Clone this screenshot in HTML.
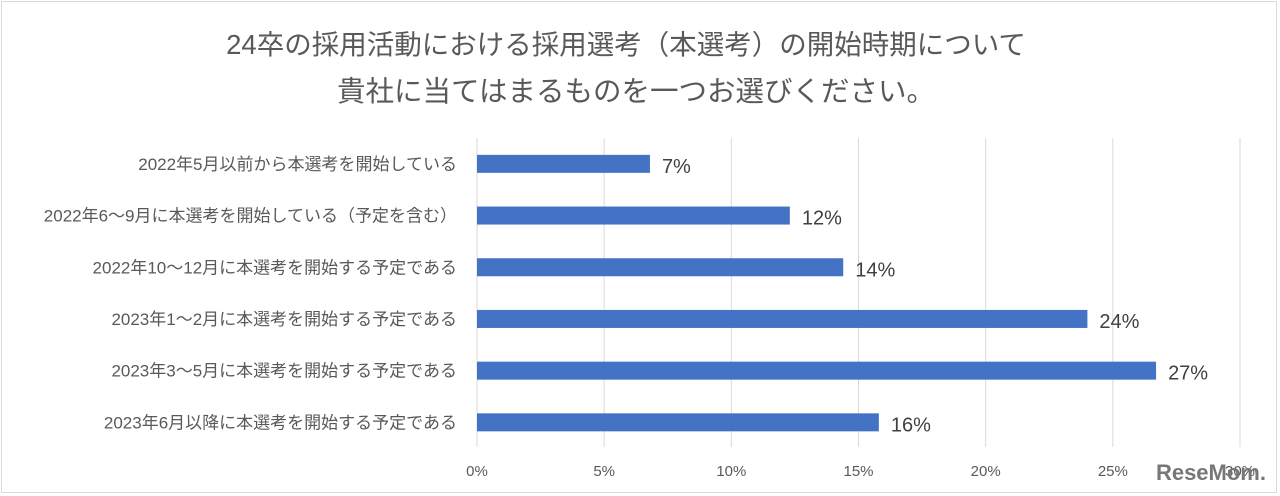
<!DOCTYPE html>
<html><head><meta charset="utf-8">
<style>
html,body{margin:0;padding:0;background:#fff;}
body{width:1280px;height:496px;overflow:hidden;position:relative;font-family:"Liberation Sans","Noto Sans CJK JP",sans-serif;}
#frame{position:absolute;left:1px;top:1px;width:1274px;height:490px;border:1px solid #d9d9d9;}
</style></head>
<body>
<div id="frame"></div>
<svg id="chart" width="1280" height="496" style="position:absolute;left:0;top:0">
<text x="626" y="54" text-anchor="middle" font-size="27.5" fill="#595959">24卒の採用活動における採用選考（本選考）の開始時期について</text>
<text x="636" y="101" text-anchor="middle" font-size="28.5" fill="#595959">貴社に当てはまるものを一つお選びください。</text>
<g id="grid"></g><g id="bars"></g>
<text x="1266" y="480" text-anchor="end" font-size="22" font-weight="bold" fill="#777">ReseMom.</text>
</svg>
<script>
const categories=["2022年5月以前から本選考を開始している","2022年6〜9月に本選考を開始している（予定を含む）","2022年10〜12月に本選考を開始する予定である","2023年1〜2月に本選考を開始する予定である","2023年3〜5月に本選考を開始する予定である","2023年6月以降に本選考を開始する予定である"];
const values=[6.8,12.3,14.4,24.0,26.7,15.8];
const valueLabels=["7%","12%","14%","24%","27%","16%"];
const ticks=[0,5,10,15,20,25,30];
const tickLabels=["0%","5%","10%","15%","20%","25%","30%"];
const NS="http://www.w3.org/2000/svg";
const x0=477,x1=1240,xmax=30;
const xs=v=>x0+(x1-x0)*v/xmax;
const yTop=138,band=51.7;
const yc=i=>yTop+band*(i+0.5);
function mk(t,a,p){const e=document.createElementNS(NS,t);for(const k in a)e.setAttribute(k,a[k]);p.appendChild(e);return e;}
const grid=document.getElementById('grid'),bars=document.getElementById('bars');
ticks.forEach((t,i)=>{
 const l=mk('line',{x1:xs(t),x2:xs(t),y1:138,y2:447,stroke:'#d9d9d9','stroke-width':1},grid);
 
 
 const tx=mk('text',{x:xs(t),y:476,'text-anchor':'middle','font-size':15,fill:'#595959'},grid);
 tx.textContent=tickLabels[i];
 
 
});
categories.forEach((c,i)=>{
 const y=yc(i);
 const r=mk('rect',{x:x0,y:y-9,width:xs(values[i])-x0,height:18,fill:'#4472c4'},bars);
 
 
 const cl=mk('text',{x:457,y:y+6,'text-anchor':'end','font-size':17,fill:'#595959'},bars);
 cl.textContent=c;
 
 
 const vl=mk('text',{x:xs(values[i])+12,y:y+9,'font-size':20,fill:'#404040'},bars);
 vl.textContent=valueLabels[i];
 
 
});
</script>
</body></html>
